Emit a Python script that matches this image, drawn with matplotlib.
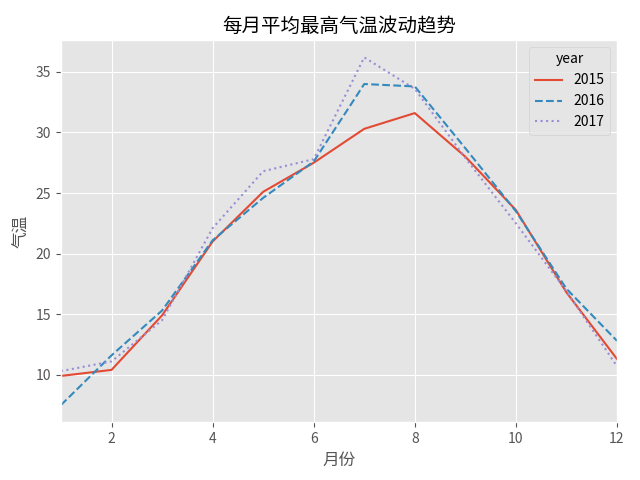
import matplotlib
matplotlib.use("Agg")
import matplotlib.pyplot as plt

plt.style.use("ggplot")
plt.rcParams['font.family'] = ['Noto Sans CJK SC', 'DejaVu Sans']
plt.rcParams['axes.unicode_minus'] = False

months = list(range(1, 13))
years = ["2015", "2016", "2017"]
t2015 = [9.9, 10.4, 14.9, 21.0, 25.1, 27.5, 30.3, 31.6, 28.0, 23.6, 16.8, 11.3]
t2016 = [7.5, 11.6, 15.3, 21.1, 24.6, 27.6, 34.0, 33.8, 28.7, 23.5, 17.1, 12.8]
t2017 = [10.3, 11.1, 14.5, 22.1, 26.8, 27.8, 36.2, 33.6, 27.9, 22.5, 16.9, 10.7]
series = [t2015, t2016, t2017]
styles = ["-", "--", ":"]

fig, ax = plt.subplots(figsize=(6.4, 4.8), dpi=100)
for y, vals, st in zip(years, series, styles):
    ax.plot(months, vals, st, label=y)
ax.set_xlim(months[0], months[-1])
ax.set_title("每月平均最高气温波动趋势", color="black", fontsize=14)
ax.set_xlabel("月份")
ax.set_ylabel("气温")
ax.legend(title="year")
fig.subplots_adjust(left=0.0953, right=0.964, top=0.9167, bottom=0.12)
fig.savefig("out.png")
